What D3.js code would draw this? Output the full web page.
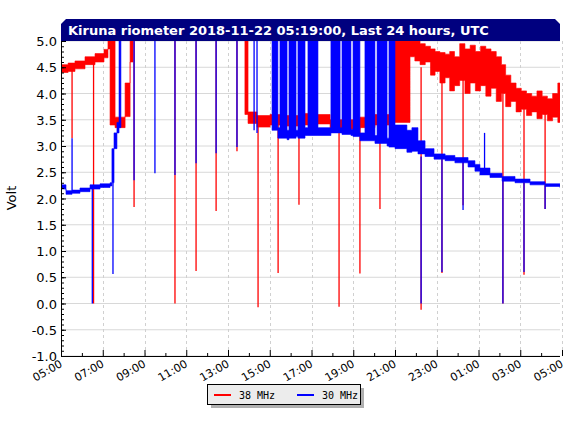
<!DOCTYPE html>
<html><head><meta charset="utf-8">
<script src="https://cdn.jsdelivr.net/npm/d3@7"></script>
<style>body{margin:0;background:#fff}svg{display:block}</style>
</head><body>
<svg id="c" width="570" height="426"></svg>
<script>
const title = "Kiruna riometer 2018-11-22 05:19:00, Last 24 hours, UTC";
const xTickLabels = ["05:00","07:00","09:00","11:00","13:00","15:00","17:00","19:00","21:00","23:00","01:00","03:00","05:00"];
const yTicks = [-1.0,-0.5,0.0,0.5,1.0,1.5,2.0,2.5,3.0,3.5,4.0,4.5,5.0];
const seriesNames = ["38 MHz","30 MHz"];
// hours after 05:00 UTC, lower and upper envelope (volts); 5.5 = off scale
const redBand = [
[0.00,4.40,4.55],[0.34,4.42,4.58],[0.67,4.47,4.62],[1.15,4.55,4.70],[1.63,4.60,4.76],[2.06,4.68,4.84],
[2.25,4.85,5.0],[2.35,3.40,5.5],[2.59,3.35,3.55],[3.07,3.56,4.20],[3.31,4.60,5.5],[3.45,5.5,5.5],
[8.81,3.60,5.5],[8.96,3.43,3.65],[9.39,3.36,3.58],[10.01,3.40,3.60],[10.73,3.38,3.58],[11.45,3.40,3.62],
[12.17,3.42,3.60],[12.89,3.33,3.50],[13.60,3.32,3.50],[14.32,3.35,3.55],[15.04,3.40,3.60],[15.90,3.45,5.5],
[16.72,4.70,5.2],[16.95,4.62,5.05],[17.20,4.55,4.95],[17.45,4.60,4.90],[17.70,4.35,4.85],[17.92,4.42,4.80],
[18.15,4.20,4.78],[18.40,4.30,4.75],[18.62,4.05,4.80],[18.85,4.15,4.70],[19.10,4.25,4.95],[19.35,4.00,4.85],
[19.60,4.20,4.92],[19.85,4.05,4.80],[20.10,4.15,4.90],[20.35,3.95,4.85],[20.60,4.10,4.80],[20.85,3.85,4.70],
[21.10,4.00,4.55],[21.30,3.75,4.35],[21.55,3.85,4.20],[21.80,3.65,4.10],[22.05,3.70,4.05],[22.30,3.58,4.00],
[22.55,3.65,3.95],[22.80,3.52,4.05],[23.05,3.60,3.95],[23.30,3.48,3.90],[23.55,3.55,4.00],[23.80,3.45,4.20],
[24.05,3.50,4.00],[24.4,3.50,4.00]];
const blueBand = [
[0.00,2.18,2.26],[0.24,2.08,2.15],[0.53,2.10,2.16],[0.91,2.13,2.20],[1.39,2.18,2.26],[1.87,2.21,2.28],
[2.35,2.24,2.30],[2.44,2.30,2.95],[2.54,2.95,3.25],[2.68,3.25,3.45],[2.78,3.35,5.5],[2.87,5.5,5.5],
[10.11,3.30,5.5],[10.39,3.15,3.35],[10.49,3.15,5.5],[10.83,3.12,3.30],[10.92,3.15,5.5],[11.26,3.18,3.30],
[11.35,3.15,5.5],[11.69,3.20,3.35],[11.83,3.20,5.5],[12.31,3.20,3.35],[12.93,3.25,5.5],[13.37,3.25,3.35],
[13.46,3.22,5.5],[13.89,3.20,3.32],[13.99,3.18,5.5],[14.32,3.10,3.25],[14.56,3.10,5.5],[15.04,3.05,3.20],
[15.14,3.05,5.5],[15.62,3.00,3.15],[15.71,2.98,5.5],[16.00,2.95,3.40],[16.57,2.88,3.30],[16.81,2.90,3.35],
[17.10,2.85,3.10],[17.44,2.80,2.95],[17.87,2.75,2.85],[18.40,2.72,2.82],[18.87,2.68,2.78],[19.50,2.60,2.72],
[19.83,2.52,2.65],[20.07,2.45,2.58],[20.55,2.40,2.48],[21.13,2.33,2.42],[21.75,2.30,2.37],[22.47,2.26,2.32],
[23.19,2.23,2.28],[23.90,2.21,2.26],[24.4,2.21,2.26]];
// spikes: hour, from, to
const redSpikes = [
[0.53,4.45,3.15],[1.56,4.6,0.0],[3.50,5.5,1.84],[5.46,5.5,0.0],[6.47,5.5,0.62],[7.43,5.5,1.76],[8.43,5.5,2.9],
[9.44,3.45,-0.07],[10.40,3.45,0.58],[11.40,3.45,1.88],[13.32,3.4,-0.06],[14.32,3.4,0.57],[15.28,3.4,1.8],
[17.25,4.5,-0.12],[18.25,4.3,0.58],[19.26,4.3,1.87],[21.17,4.0,0.0],[22.18,3.8,0.55],[23.19,3.7,1.8]];
const blueSpikes = [
[0.53,2.15,3.15],[1.50,2.2,0.0],[2.49,2.3,0.56],[3.50,5.5,2.35],[4.50,5.5,2.48],[5.46,5.5,2.45],[6.47,5.5,2.67],
[7.43,5.5,2.86],[8.43,5.5,2.98],[9.25,5.5,3.3],[9.39,5.5,3.25],[17.25,2.8,0.0],[18.25,2.75,0.6],
[19.26,2.7,1.78],[20.29,2.5,3.25],[21.17,2.35,0.0],[22.18,2.3,0.6],[23.19,2.25,1.8]];
const colors = ["#ff0000","#0000ff"];

const svg = d3.select("#c");
const L=61,R=560,T=41,B=356;
const x = d3.scaleLinear().domain([0,24]).range([L,562]);
const y = d3.scaleLinear().domain([-1,5]).range([B,T]);

svg.append("defs").append("clipPath").attr("id","clip").append("rect")
  .attr("x",L).attr("y",T).attr("width",R-L).attr("height",B-T);

svg.append("g").selectAll("line").data(yTicks).join("line")
  .attr("x1",L).attr("x2",R).attr("y1",d=>y(d)).attr("y2",d=>y(d))
  .attr("stroke","#d8d8d8").attr("stroke-width",1);
const hourTicks = d3.range(0,25,2);
svg.append("g").selectAll("line").data(hourTicks.slice(1)).join("line")
  .attr("x1",d=>Math.round(x(d))+0.5).attr("x2",d=>Math.round(x(d))+0.5).attr("y1",T).attr("y2",B)
  .attr("stroke","#d0d0d0").attr("stroke-dasharray","3,3");

const plot = svg.append("g").attr("clip-path","url(#clip)");
const area = d3.area().x(d=>x(d[0])).y0(d=>y(d[1])).y1(d=>y(d[2])).curve(d3.curveStepAfter);
function drawBand(data,col){
  plot.append("path").datum(data).attr("d",area).attr("fill",col).attr("stroke",col).attr("stroke-width",0.6);
}
function drawSpikes(data,col){
  plot.append("g").selectAll("line").data(data).join("line")
    .attr("x1",d=>x(d[0])).attr("x2",d=>x(d[0])).attr("y1",d=>y(d[1])).attr("y2",d=>y(d[2]))
    .attr("stroke",col).attr("stroke-width",1.3);
}
drawBand(redBand,colors[0]); drawSpikes(redSpikes,colors[0]);
drawBand(blueBand,colors[1]); drawSpikes(blueSpikes,colors[1]);

const yAxis = svg.append("g").attr("transform",`translate(${L},0)`)
  .call(d3.axisRight(y).tickValues(yTicks).tickSize(5).tickFormat(""));
yAxis.select(".domain").remove();
svg.append("g").attr("transform",`translate(${L},0)`)
  .call(d3.axisRight(y).tickValues(d3.range(-10,51).map(d=>d/10)).tickSize(3).tickFormat(""))
  .select(".domain").remove();
svg.selectAll(".tick line").attr("stroke","#000");
svg.append("line").attr("x1",L+0.5).attr("x2",L+0.5).attr("y1",T).attr("y2",B).attr("stroke","#000");
svg.append("g").selectAll("text").data(yTicks).join("text")
  .attr("x",L-4).attr("y",d=>y(d)+5).attr("text-anchor","end")
  .attr("font-family","DejaVu Sans").attr("font-size",13).text(d=>d.toFixed(1));

svg.append("line").attr("x1",L).attr("x2",R).attr("y1",B+0.5).attr("y2",B+0.5).attr("stroke","#000");
const xAx = svg.append("g").attr("transform",`translate(0,${B})`)
  .call(d3.axisTop(x).tickValues(d3.range(0,25,1)).tickSize(3).tickFormat(""));
xAx.select(".domain").remove();
xAx.selectAll(".tick line").attr("stroke","#000").attr("y2",d=>d%2===0?-6:-3);
svg.append("g").selectAll("text").data(hourTicks).join("text")
  .attr("transform",(d)=>`translate(${x(d)+2},${B+10}) rotate(-30)`)
  .attr("text-anchor","end").attr("font-family","DejaVu Sans").attr("font-size",11)
  .text((d,i)=>xTickLabels[i]);

svg.append("text").attr("transform","translate(16,198) rotate(-90)").attr("text-anchor","middle")
  .attr("font-family","DejaVu Sans").attr("font-size",13).text("Volt");

svg.append("path").attr("d",`M${L},${T} L${L},${T-17} L${L+5},${T-22} L${R-5},${T-22} L${R},${T-17} L${R},${T} Z`)
  .attr("fill","#00007f");
svg.append("text").attr("x",L+7).attr("y",T-6).attr("fill","#fff").attr("font-family","DejaVu Sans")
  .attr("font-weight","bold").attr("font-size",13).text(title);

const lg = svg.append("g");
lg.append("rect").attr("x",211).attr("y",388).attr("width",153).attr("height",20).attr("fill","#b0b0b0");
lg.append("rect").attr("x",207.5).attr("y",384.5).attr("width",153).attr("height",20).attr("fill","#ececec").attr("stroke","#000");
seriesNames.forEach((n,i)=>{
  const ox = 214 + i*83;
  lg.append("line").attr("x1",ox).attr("x2",ox+17).attr("y1",395).attr("y2",395).attr("stroke",colors[i]).attr("stroke-width",2);
  lg.append("text").attr("x",ox+25).attr("y",398.5).attr("font-family","DejaVu Sans Mono").attr("font-size",10).text(n);
});
</script>
</body></html>
